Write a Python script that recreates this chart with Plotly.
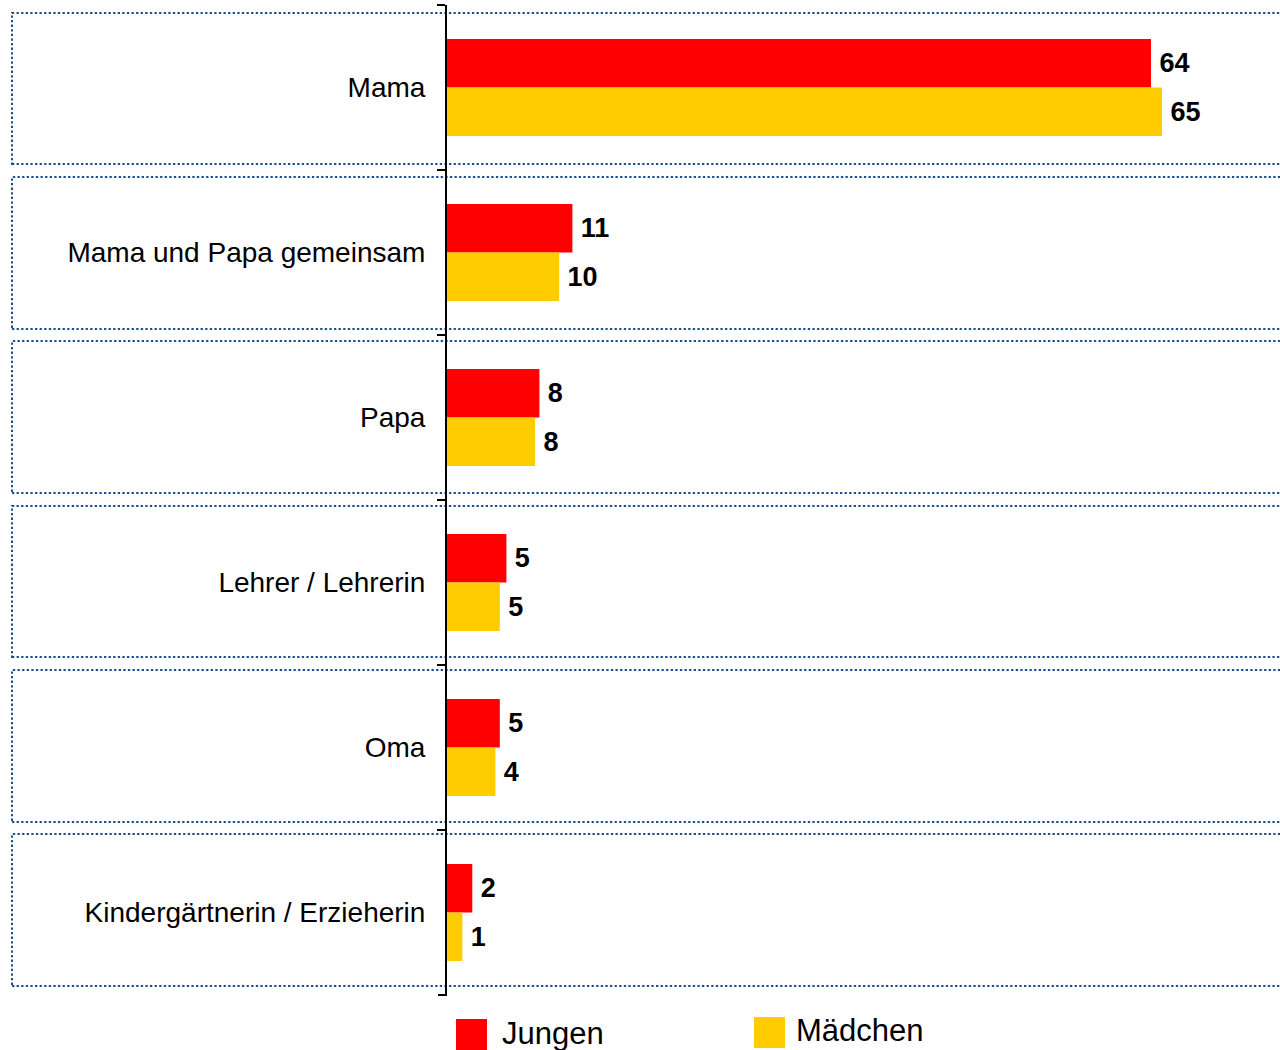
import plotly.graph_objects as go

categories = ["Mama", "Mama und Papa gemeinsam", "Papa", "Lehrer / Lehrerin",
              "Oma", "Kindergärtnerin / Erzieherin"]
jungen = [64, 11.4, 8.4, 5.4, 4.8, 2.3]
maedchen = [65, 10.2, 8.0, 4.8, 4.4, 1.4]
series_names = ["Jungen", "Mädchen"]
colors = ["#FF0000", "#FFCC00"]

W, H = 1280, 1050
L, R, T, B = 447, 0, 5, 55
PW, PH = W - L - R, H - T - B

def px_x(px):
    return (px - L) / PW

def px_y(py):
    return (H - B - py) / PH

FONT = "Liberation Sans, Arial, sans-serif"

fig = go.Figure()
for name, vals, col in zip(series_names, [jungen, maedchen], colors):
    fig.add_trace(go.Bar(
        y=categories, x=vals, name=name, orientation="h",
        marker=dict(color=col, line=dict(width=0)),
        texttemplate="\u2009%{x:.0f}", textposition="outside",
        textfont=dict(family=FONT, size=27, color="black", weight="bold"),
        cliponaxis=False, showlegend=False,
    ))

shapes = []
n = len(categories)
for k in range(n):
    top = round(12.7 + 164.3 * k)
    bot = round(164.3 + 164.3 * k)
    shapes.append(dict(
        type="rect", xref="paper", yref="paper",
        x0=px_x(12), x1=px_x(1290),
        y0=px_y(bot), y1=px_y(top),
        line=dict(color="#1F4E8C", width=2, dash="2.3px,2.3px"),
        fillcolor="rgba(0,0,0,0)", layer="below",
    ))

# bottom boundary tick
shapes.append(dict(type="line", xref="paper", yref="paper",
                   x0=px_x(438), x1=px_x(447), y0=px_y(995), y1=px_y(995),
                   line=dict(color="black", width=2)))

# legend squares
legend_items = [(456, 487, 1019, 1050, colors[0], 500, 1033, series_names[0]),
                (754, 785, 1017, 1048, colors[1], 794, 1030, series_names[1])]
annotations = []
for x0, x1, y0, y1, col, tx, ty, label in legend_items:
    shapes.append(dict(type="rect", xref="paper", yref="paper",
                       x0=px_x(x0), x1=px_x(x1), y0=px_y(y1), y1=px_y(y0),
                       fillcolor=col, line=dict(width=0)))
    annotations.append(dict(xref="paper", yref="paper", x=px_x(tx), y=px_y(ty),
                            text=label, showarrow=False, xanchor="left",
                            yanchor="middle",
                            font=dict(family=FONT, size=31, color="black")))

fig.update_layout(
    width=W, height=H,
    margin=dict(l=L, r=R, t=T, b=B, pad=0),
    paper_bgcolor="white", plot_bgcolor="white",
    barmode="group", bargap=0.412, bargroupgap=0,
    shapes=shapes, annotations=annotations,
    font=dict(family=FONT, color="black"),
    xaxis=dict(range=[0, PW / 11.0], showgrid=False, zeroline=False,
               showline=False, showticklabels=False, ticks="", fixedrange=True),
    yaxis=dict(autorange="reversed", type="category",
               categoryorder="array", categoryarray=categories,
               showline=True, linecolor="black", linewidth=2,
               ticks="outside", ticklen=8, tickwidth=2, tickcolor="black",
               tickson="boundaries", showgrid=False, zeroline=False,
               tickfont=dict(family=FONT, size=28, color="black"),
               ticklabelstandoff=14),
)

fig.write_html(
    "out.html",
    config={"displayModeBar": False},
    post_script="document.body.style.margin='0';document.body.style.overflow='hidden';",
)
